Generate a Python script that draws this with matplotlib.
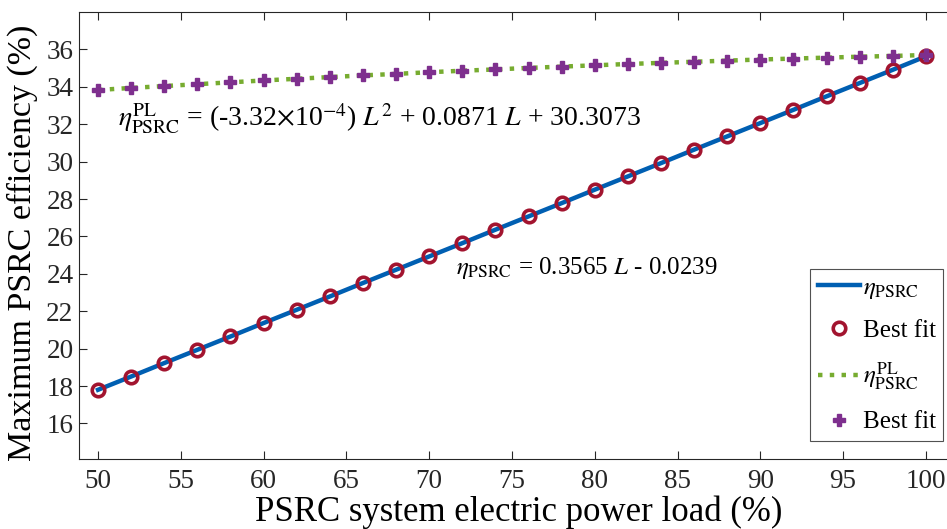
import matplotlib
matplotlib.use('Agg')
from matplotlib import pyplot as plt

# data
load = [50, 52, 54, 56, 58, 60, 62, 64, 66, 68, 70, 72, 74,
        76, 78, 80, 82, 84, 86, 88, 90, 92, 94, 96, 98, 100]
eta_psrc = [17.80, 18.51, 19.23, 19.94, 20.65, 21.37, 22.08, 22.79, 23.51,
            24.22, 24.93, 25.64, 26.36, 27.07, 27.78, 28.50, 29.21, 29.92,
            30.64, 31.35, 32.06, 32.77, 33.49, 34.20, 34.91, 35.63]
eta_pl = [33.83, 33.94, 34.04, 34.14, 34.24, 34.34, 34.43, 34.52, 34.61,
          34.69, 34.78, 34.86, 34.93, 35.01, 35.08, 35.15, 35.22, 35.28,
          35.34, 35.40, 35.46, 35.51, 35.56, 35.61, 35.65, 35.70]
xticks = [50, 55, 60, 65, 70, 75, 80, 85, 90, 95, 100]
yticks = [16, 18, 20, 22, 24, 26, 28, 30, 32, 34, 36]

plt.rcParams['font.family'] = 'Liberation Serif'
plt.rcParams['mathtext.fontset'] = 'stix'

fig = plt.figure(figsize=(9.47, 5.29), dpi=100)
ax = fig.add_axes([79 / 947, 1 - 459 / 529, 880 / 947, 447 / 529])

ax.plot(load, eta_psrc, color='#005fb2', lw=3.2, label=r'$\eta_{\mathrm{PSRC}}$')
ax.plot(load, eta_psrc, 'o', ms=9, mfc='none', mec='#a2142f', mew=2.6,
        label='Best fit')
ax.plot(load, eta_pl, ':', color='#77ac30', lw=3.2,
        label=r'$\eta^{\mathrm{PL}}_{\mathrm{PSRC}}$')
ax.plot(load, eta_pl, 'P', ms=9, color='#7e2f8e', mec='#7e2f8e',
        label='Best fit')

ax.text(51.2, 32.3,
        r'$\eta^{\mathrm{PL}}_{\mathrm{PSRC}}$ = (-3.32$\times$10$^{-4}$) $L^2$ + 0.0871 $L$ + 30.3073',
        fontsize=20, va='center')
ax.text(71.6, 24.3, r'$\eta_{\mathrm{PSRC}}$ = 0.3565 $L$ - 0.0239',
        fontsize=18, va='center')

ax.set_xlim(48.85, 102.0)
ax.set_ylim(14.1, 38.0)
ax.set_xticks(xticks)
ax.set_yticks(yticks)
ax.tick_params(direction='in', top=True, right=True, labelsize=19.5,
               length=6, width=0.8, colors='#262626')
ax.tick_params(axis='x', pad=7)
ax.tick_params(axis='y', pad=4)
for sp in ax.spines.values():
    sp.set_color('#262626')
    sp.set_linewidth(0.8)

ax.set_xlabel('PSRC system electric power load (%)', fontsize=25, labelpad=1)
ax.set_ylabel('Maximum PSRC efficiency (%)', fontsize=24.5)
ax.yaxis.set_label_coords(-0.047, 0.483)

leg = ax.legend(loc='lower right', bbox_to_anchor=(943 / 947, 1 - 441 / 529),
                bbox_transform=fig.transFigure, borderaxespad=0,
                fontsize=18, fancybox=False, edgecolor='#262626',
                handlelength=1.7, handletextpad=0.1, labelspacing=0.75,
                borderpad=0.3)
leg.get_frame().set_linewidth(0.8)

fig.savefig('out.png', dpi=100)
